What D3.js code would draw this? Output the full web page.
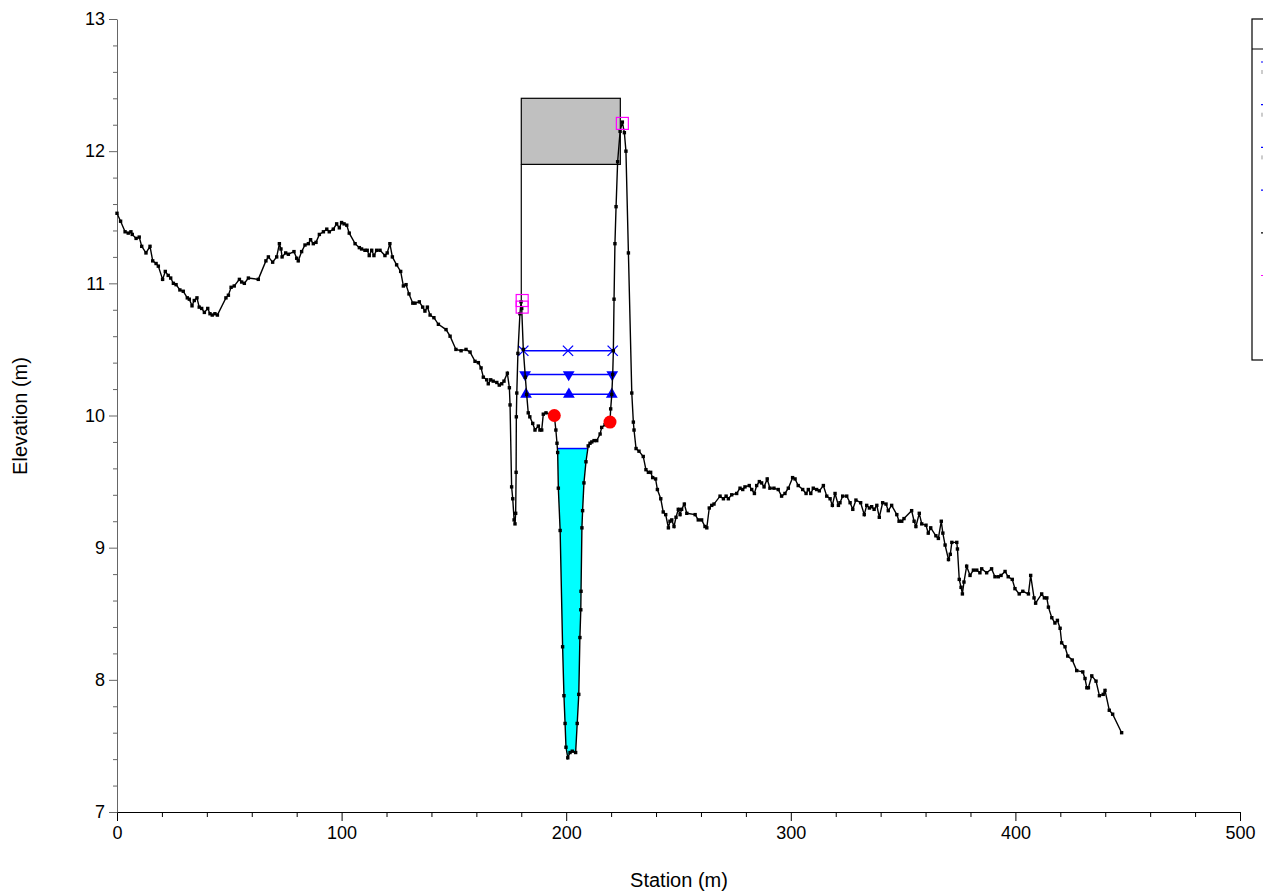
<!DOCTYPE html>
<html>
<head>
<meta charset="utf-8">
<script src="https://cdn.jsdelivr.net/npm/d3@7"></script>
<style>
  html, body { margin: 0; padding: 0; background: #fff; overflow: hidden; }
  svg { display: block; }
  text { font-family: "Liberation Sans", Arial, sans-serif; }
</style>
</head>
<body>
<svg id="chart" width="1263" height="892"></svg>
<script>
// ---- Ground profile (station m, elevation m) ----
const station = [
  0, 1.6, 3.6, 5.0, 6.2, 6.8, 8.5, 9.9, 11.0, 12.9, 14.7, 15.9, 17.4, 18.4, 20.3, 21.5, 22.8, 23.9, 25.1, 26.3,
  28.0, 29.5, 31.3, 32.2, 33.4, 34.4, 35.6, 36.6, 37.7, 38.9, 40.4, 41.4, 42.4, 43.6, 44.7, 48.5, 49.6, 50.8, 52.2, 54.5,
  55.5, 56.7, 58.5, 62.9, 66.3, 67.4, 69.3, 71.1, 72.3, 73.0, 73.5, 75.1, 76.3, 78.8, 80.0, 80.7, 82.2, 83.7, 85.2, 86.2,
  87.4, 88.6, 90.1, 91.9, 93.4, 94.5, 96.3, 97.8, 99.0, 100.0, 101.1, 102.3, 103.4, 106.0, 107.9, 108.9, 110.4, 111.4, 112.3, 113.4,
  114.4, 115.6, 117.1, 119.3, 120.3, 121.5, 122.6, 124.5, 126.3, 127.5, 128.7, 130.0, 131.7, 132.7, 134.6, 136.1, 137.1, 138.2, 139.4, 141.1,
  143.1, 146.5, 148.3, 150.9, 153.2, 155.4, 157.2, 159.4, 160.9, 162.1, 163.1, 164.6, 165.3, 166.4, 167.5, 169.1, 170.2, 171.3, 172.3, 173.8,
  174.7, 175.0, 175.7, 176.2, 176.8, 177.2, 177.5, 177.7, 177.8, 178.0, 178.5, 179.4, 179.9, 180.2, 180.9, 181.8, 182.4, 183.1, 183.8, 185.1,
  186.1, 187.6, 188.3, 189.1, 189.8, 191.0, 194.7, 195.4, 195.9, 196.2, 196.5, 197.3, 198.4, 199.0, 199.5, 199.9, 200.7, 201.7, 202.7, 204.2,
  204.9, 205.6, 206.1, 206.5, 206.6, 207.0, 207.3, 207.9, 208.8, 209.8, 210.6, 211.4, 212.4, 213.6, 215.1, 215.8, 217.3, 219.5, 219.8, 220.3,
  220.7, 221.0, 221.3, 221.7, 222.2, 222.9, 224.0, 225.0, 225.9, 226.6, 227.7, 229.2, 229.9, 230.2, 231.1, 232.4, 234.3, 235.5, 236.6, 237.6,
  238.5, 239.8, 240.6, 242.1, 243.2, 244.3, 245.5, 246.2, 247.0, 248.0, 248.9, 249.9, 250.7, 251.4, 252.6, 253.7, 257.4, 258.8, 260.3, 261.8,
  262.6, 263.7, 264.8, 265.8, 268.5, 270.0, 271.2, 272.2, 273.7, 275.9, 277.4, 278.6, 279.6, 281.5, 282.6, 283.8, 284.8, 286.0, 287.0, 288.1,
  289.5, 290.7, 292.5, 294.4, 295.9, 297.4, 298.9, 300.8, 301.9, 303.3, 305.3, 306.8, 307.8, 308.9, 310.0, 311.5, 312.7, 314.5, 316.0, 317.5,
  318.5, 319.7, 321.2, 321.9, 323.1, 324.9, 326.4, 327.6, 329.0, 331.1, 332.7, 333.8, 335.0, 336.0, 337.1, 338.3, 339.4, 340.9, 342.4, 343.4,
  344.9, 347.2, 348.2, 349.4, 350.4, 353.8, 354.9, 355.7, 357.2, 358.3, 360.2, 361.2, 362.3, 364.6, 365.7, 367.0, 367.7, 368.7, 370.2, 371.0,
  371.7, 373.9, 374.2, 375.0, 375.8, 376.4, 377.1, 378.3, 379.8, 381.3, 382.8, 384.2, 385.0, 387.2, 389.4, 390.9, 392.4, 393.6, 395.4, 396.8,
  398.6, 399.8, 401.7, 403.3, 405.8, 406.8, 408.3, 409.0, 411.7, 412.9, 414.0, 414.7, 416.2, 417.6, 418.7, 419.9, 420.6, 422.1, 423.3, 425.3,
  427.3, 430.0, 431.0, 431.8, 432.5, 434.0, 435.9, 437.4, 439.1, 439.9, 441.8, 443.3, 447.3
];
const elevation = [
  11.53, 11.47, 11.39, 11.38, 11.39, 11.37, 11.34, 11.35, 11.28, 11.23, 11.28, 11.17, 11.15, 11.13, 11.03, 11.09, 11.06, 11.04, 11.00, 10.99,
  10.95, 10.94, 10.89, 10.88, 10.83, 10.87, 10.89, 10.82, 10.81, 10.78, 10.81, 10.77, 10.76, 10.77, 10.76, 10.89, 10.91, 10.97, 10.98, 11.03,
  11.01, 11.00, 11.04, 11.03, 11.17, 11.20, 11.16, 11.20, 11.30, 11.26, 11.20, 11.23, 11.22, 11.24, 11.19, 11.17, 11.24, 11.29, 11.30, 11.33,
  11.30, 11.31, 11.37, 11.39, 11.41, 11.39, 11.41, 11.45, 11.42, 11.46, 11.45, 11.44, 11.38, 11.30, 11.27, 11.26, 11.25, 11.25, 11.21, 11.25,
  11.21, 11.25, 11.25, 11.21, 11.23, 11.30, 11.20, 11.14, 11.09, 10.98, 10.99, 10.92, 10.85, 10.85, 10.86, 10.82, 10.79, 10.82, 10.76, 10.74,
  10.69, 10.65, 10.60, 10.50, 10.49, 10.50, 10.48, 10.41, 10.40, 10.36, 10.29, 10.27, 10.24, 10.27, 10.26, 10.25, 10.23, 10.24, 10.26, 10.32,
  10.21, 10.08, 9.46, 9.37, 9.21, 9.18, 9.26, 9.57, 9.99, 10.17, 10.47, 10.77, 10.86, 10.81, 10.50, 10.29, 10.16, 10.02, 9.99, 9.94,
  9.89, 9.92, 9.89, 9.89, 10.01, 10.02, 10.00, 9.89, 9.79, 9.72, 9.45, 9.13, 8.25, 7.88, 7.67, 7.49, 7.41, 7.45, 7.46, 7.45,
  7.67, 7.89, 8.32, 8.53, 8.67, 9.15, 9.28, 9.49, 9.65, 9.77, 9.79, 9.80, 9.81, 9.81, 9.86, 9.91, 9.93, 9.95, 10.05, 10.16,
  10.31, 10.49, 10.88, 11.30, 11.58, 11.92, 12.15, 12.22, 12.14, 12.00, 11.23, 10.17, 9.95, 9.89, 9.75, 9.73, 9.69, 9.59, 9.57, 9.57,
  9.53, 9.52, 9.44, 9.37, 9.27, 9.25, 9.15, 9.20, 9.21, 9.16, 9.23, 9.29, 9.25, 9.29, 9.33, 9.26, 9.25, 9.21, 9.21, 9.16,
  9.15, 9.30, 9.32, 9.33, 9.39, 9.37, 9.39, 9.37, 9.40, 9.41, 9.45, 9.44, 9.46, 9.47, 9.44, 9.41, 9.47, 9.50, 9.49, 9.46,
  9.52, 9.45, 9.45, 9.44, 9.39, 9.41, 9.45, 9.53, 9.52, 9.47, 9.44, 9.41, 9.44, 9.41, 9.45, 9.44, 9.43, 9.47, 9.39, 9.37,
  9.32, 9.41, 9.32, 9.34, 9.39, 9.39, 9.34, 9.29, 9.36, 9.34, 9.25, 9.32, 9.30, 9.31, 9.29, 9.32, 9.23, 9.34, 9.33, 9.28,
  9.32, 9.25, 9.20, 9.20, 9.22, 9.28, 9.20, 9.16, 9.26, 9.18, 9.17, 9.11, 9.15, 9.09, 9.07, 9.20, 9.11, 9.02, 8.91, 8.95,
  9.04, 9.04, 8.99, 8.76, 8.70, 8.65, 8.74, 8.86, 8.79, 8.83, 8.83, 8.81, 8.84, 8.81, 8.84, 8.78, 8.78, 8.79, 8.82, 8.78,
  8.76, 8.69, 8.65, 8.67, 8.65, 8.79, 8.62, 8.58, 8.65, 8.62, 8.62, 8.55, 8.47, 8.43, 8.45, 8.39, 8.28, 8.25, 8.18, 8.15,
  8.07, 8.06, 8.01, 7.94, 7.94, 8.03, 7.99, 7.88, 7.89, 7.92, 7.77, 7.74, 7.60
];

// ---- Water surface in channel ----
const channelWS = 9.75;

// ---- Profile water-surface lines (blue) ----
const profileLevels = [10.49, 10.31, 10.16];
const profileStart = [180.9, 181.7, 182.1];
const profileEnd = [220.7, 220.5, 220.3];
const profileMarkers = ["cross", "down", "up"];

// ---- Bridge deck ----
const deckStations = [180.0, 224.1];
const deckHighChord = 12.40;
const deckLowChord = 11.90;
const deckLeftGround = 10.87;

// ---- Levee / ineffective markers (magenta squares) ----
const leveeStations = [180.4, 180.4, 225.0];
const leveeElevations = [10.87, 10.82, 12.21];

// ---- Bank stations (red) ----
const bankStations = [194.7, 219.5];
const bankElevations = [10.00, 9.95];

// ---- Axis ticks ----
const xTicks = [0, 100, 200, 300, 400, 500];
const yTicks = [7, 8, 9, 10, 11, 12, 13];
const legendColors = ["#0000ff", "#0000ff", "#0000ff", "#0000ff", "#000000", "#ff00ff"];

const svg = d3.select("#chart");
const x = d3.scaleLinear().domain([0, 500]).range([117, 1240]);
const y = d3.scaleLinear().domain([7, 13]).range([812, 19]);

const ground = station.map((s, i) => [s, elevation[i]]);

// ---- Axes ----
const xMinor = d3.range(0, 501, 20).filter(v => v % 100 !== 0);
const yMinor = d3.range(7, 13.001, 0.2).filter(v => Math.abs(v - Math.round(v)) > 0.01);

const gx = svg.append("g").attr("transform", "translate(0,812)");
gx.call(d3.axisBottom(x).tickValues(xTicks).tickSize(9).tickSizeOuter(0).tickPadding(5).tickFormat(d3.format("d")));
gx.append("g").call(d3.axisBottom(x).tickValues(xMinor).tickSize(5).tickFormat(""))
  .call(g => g.select(".domain").remove());
gx.selectAll("line, path").attr("stroke", "#000").attr("stroke-width", 1);
gx.selectAll("text").attr("font-size", 18).attr("fill", "#000").attr("font-family", "Liberation Sans, Arial, sans-serif");

const gy = svg.append("g").attr("transform", "translate(117,0)");
gy.call(d3.axisLeft(y).tickValues(yTicks).tickSize(8).tickSizeOuter(0).tickPadding(4).tickFormat(d3.format("d")));
gy.append("g").call(d3.axisLeft(y).tickValues(yMinor).tickSize(4).tickFormat(""))
  .call(g => g.select(".domain").remove());
gy.selectAll("line, path").attr("stroke", "#666").attr("stroke-width", 1);
gy.selectAll("text").attr("font-size", 18).attr("fill", "#000").attr("font-family", "Liberation Sans, Arial, sans-serif");

svg.append("text").attr("x", 679).attr("y", 887).attr("text-anchor", "middle")
  .attr("font-size", 20).text("Station (m)");
svg.append("text").attr("transform", "translate(27,416) rotate(-90)").attr("text-anchor", "middle")
  .attr("font-size", 20).text("Elevation (m)");

// ---- Water fill in channel ----
(function () {
  let iMin = d3.minIndex(elevation);
  let l = iMin, r = iMin;
  while (l > 0 && elevation[l - 1] < channelWS) l--;
  while (r < elevation.length - 1 && elevation[r + 1] < channelWS) r++;
  const interp = (i, j) => {
    const t = (channelWS - elevation[i]) / (elevation[j] - elevation[i]);
    return station[i] + t * (station[j] - station[i]);
  };
  const sL = interp(l - 1, l), sR = interp(r, r + 1);
  const poly = [[sL, channelWS]];
  for (let i = l; i <= r; i++) poly.push([station[i], elevation[i]]);
  poly.push([sR, channelWS]);
  svg.append("path")
    .attr("d", d3.line().x(d => x(d[0])).y(d => y(d[1]))(poly) + "Z")
    .attr("fill", "#00ffff").attr("stroke", "none");
  svg.append("line").attr("x1", x(sL)).attr("x2", x(sR)).attr("y1", y(channelWS)).attr("y2", y(channelWS))
    .attr("stroke", "#0000ff").attr("stroke-width", 1.5);
})();

// ---- Bridge deck ----
svg.append("rect")
  .attr("x", x(deckStations[0])).attr("y", y(deckHighChord))
  .attr("width", x(deckStations[1]) - x(deckStations[0]))
  .attr("height", y(deckLowChord) - y(deckHighChord))
  .attr("fill", "#c0c0c0").attr("stroke", "#000").attr("stroke-width", 1.2);
svg.append("line")
  .attr("x1", x(deckStations[0])).attr("x2", x(deckStations[0]))
  .attr("y1", y(deckLowChord)).attr("y2", y(deckLeftGround))
  .attr("stroke", "#000").attr("stroke-width", 1.2);

// ---- Profile lines ----
profileLevels.forEach((lev, i) => {
  const s0 = profileStart[i], s1 = profileEnd[i];
  svg.append("line").attr("x1", x(s0)).attr("x2", x(s1)).attr("y1", y(lev)).attr("y2", y(lev))
    .attr("stroke", "#0000ff").attr("stroke-width", 1.5);
  [s0, (s0 + s1) / 2, s1].forEach(s => {
    const m = profileMarkers[i];
    const p = svg.append("path")
      .attr("transform", `translate(${x(s)},${y(lev)})` + (m === "down" ? " rotate(180)" : ""));
    if (m === "cross") {
      p.attr("d", d3.symbol().type(d3.symbolX).size(70)()).attr("fill", "none")
        .attr("stroke", "#0000ff").attr("stroke-width", 1.3);
    } else {
      p.attr("d", d3.symbol().type(d3.symbolTriangle).size(60)()).attr("fill", "#0000ff");
    }
  });
});

// ---- Ground line ----
svg.append("path")
  .attr("d", d3.line().x(d => x(d[0])).y(d => y(d[1]))(ground))
  .attr("fill", "none").attr("stroke", "#000").attr("stroke-width", 1.4);
svg.append("g").selectAll("rect").data(ground).join("rect")
  .attr("x", d => x(d[0]) - 1.7).attr("y", d => y(d[1]) - 1.7)
  .attr("width", 3.4).attr("height", 3.4).attr("fill", "#000");

// ---- Bank stations ----
svg.append("g").selectAll("circle").data(bankStations).join("circle")
  .attr("cx", d => x(d)).attr("cy", (d, i) => y(bankElevations[i]))
  .attr("r", 6.5).attr("fill", "#ff0000");

// ---- Levee squares ----
svg.append("g").selectAll("rect").data(leveeStations).join("rect")
  .attr("x", d => x(d) - 6).attr("y", (d, i) => y(leveeElevations[i]) - 6)
  .attr("width", 12).attr("height", 12)
  .attr("fill", "none").attr("stroke", "#ff00ff").attr("stroke-width", 1.2);

// ---- Legend frame (mostly beyond right edge) ----
const lg = svg.append("g");
lg.append("rect").attr("x", 1252).attr("y", 19).attr("width", 160).attr("height", 341)
  .attr("fill", "#fff").attr("stroke", "#000").attr("stroke-width", 1.2);
lg.append("line").attr("x1", 1252).attr("x2", 1412).attr("y1", 49).attr("y2", 49)
  .attr("stroke", "#000").attr("stroke-width", 1);
legendColors.forEach((c, i) => {
  const yy = 62 + i * 42.7;
  lg.append("line").attr("x1", 1261).attr("x2", 1290).attr("y1", yy).attr("y2", yy)
    .attr("stroke", c).attr("stroke-width", 1.2);
  if (i < 3) {
    lg.append("rect").attr("x", 1261.5).attr("y", yy + 8).attr("width", 1).attr("height", 4).attr("fill", "#999");
  }
});
</script>
</body>
</html>
